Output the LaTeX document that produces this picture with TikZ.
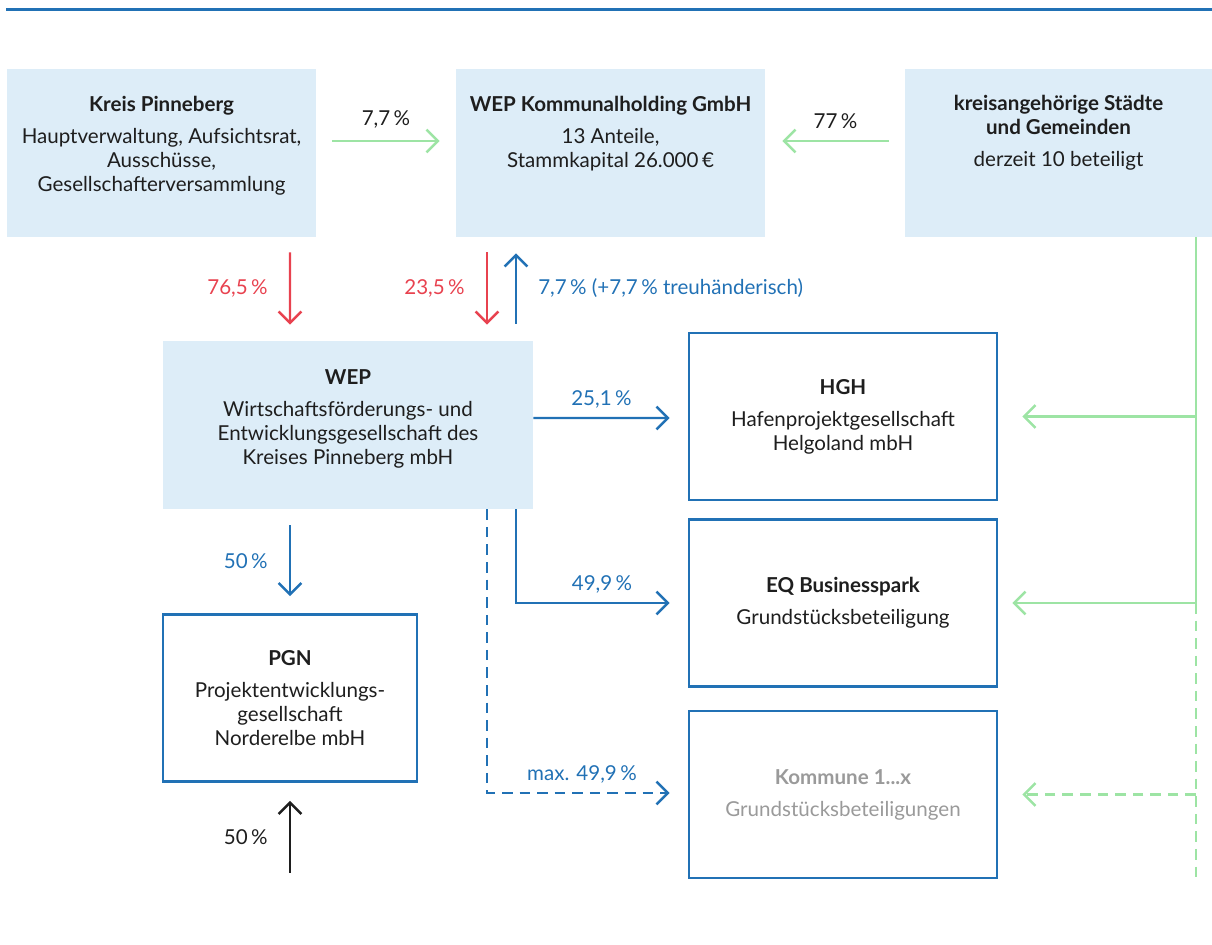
\documentclass[tikz,border=0pt]{standalone}
\usepackage{fontspec}
\setmainfont{Lato}
\usetikzlibrary{arrows.meta,calc,positioning}

\definecolor{wepblue}{HTML}{2171B5}
\definecolor{wepred}{HTML}{E8424F}
\definecolor{wepgreen}{HTML}{9DE4A4}
\definecolor{wepfill}{HTML}{DDEDF8}
\definecolor{wepgray}{HTML}{9A9A9A}
\definecolor{weptext}{HTML}{1E1E1E}

\begin{document}
\begin{tikzpicture}[x=0.02cm, y=-0.02cm,
	font=\fontsize{11.7}{13.7}\selectfont, text=weptext,
	lbox/.style={fill=wepfill, inner sep=0pt, minimum height=3.36cm},
	obox/.style={draw=wepblue, line width=1.6pt, fill=white, align=center, inner sep=0pt,
		minimum width=6.16cm, minimum height=3.34cm},
	txt/.style={align=center, anchor=north, inner sep=0pt},
	pct/.style={inner sep=0pt},
	conn/.style={line width=1.4pt, -{Straight Barb[length=6.5pt,width=13pt]}}]

	\useasboundingbox (0,0) rectangle (1212,945);

	%top rule
	\draw[wepblue, line width=1.7pt] (6,10) -- (1212,10);

	%top row
	\node[lbox, minimum width=6.18cm] (kp) at (161.5,153) {};
	\node[txt] (kpt) at (161.5,96) {\textbf{Kreis Pinneberg}\\[4.5pt]
		Hauptverwaltung, Aufsichtsrat,\\ Ausschüsse,\\ Gesellschafterversammlung};

	\node[lbox, minimum width=6.18cm] (kh) at (610.5,153) {};
	\node[txt] (kht) at (610.5,96) {\textbf{WEP Kommunalholding GmbH}\\[4.5pt]
		13 Anteile,\\ Stammkapital 26.000\,€};

	\node[lbox, minimum width=6.14cm] (ks) at (1058.5,153) {};
	\node[txt] (kst) at (1058.5,95) {\textbf{kreisangehörige Städte}\\ \textbf{und Gemeinden}\\[4.5pt]
		derzeit 10 beteiligt};

	%middle
	\node[lbox, minimum width=7.4cm] (wep) at (348,425) {};
	\node[txt] (wept) at (348,369) {\textbf{WEP}\\[4.5pt]
		Wirtschaftsförderungs- und\\ Entwicklungsgesellschaft des\\ Kreises Pinneberg mbH};

	%companies
	\node[obox] (hgh) at (843,416.5) {\textbf{HGH}\\[4.5pt] Hafenprojektgesellschaft\\ Helgoland mbH};
	\node[obox] (eq) at (843,603) {\textbf{EQ Businesspark}\\[4.5pt] Grundstücksbeteiligung};
	\node[obox, text=wepgray] (kom) at (843,794.5) {\textbf{Kommune 1...x}\\[4.5pt] Grundstücksbeteiligungen};
	\node[obox, minimum width=5.08cm] (pgn) at (290,698) {\textbf{PGN}\\[4.5pt]
		Projektentwicklungs-\\ gesellschaft\\ Norderelbe mbH};

	%green lines
	\draw[conn, wepgreen] ($(kp.east)+(16,-12)$) -- ($(kh.west)+(-16,-12)$)
		node[pct, midway, above=6.5pt, text=weptext] (l1) {7,7\,\%};
	\draw[conn, wepgreen] ($(ks.west)+(-16,-12)$) -- ($(kh.east)+(17,-12)$)
		node[pct, midway, above=6.5pt, text=weptext] (l2) {77\,\%};

	\coordinate (g0) at ($(ks.south)+(137.5,0)$);
	\coordinate (g1) at (g0 |- eq.east);
	\coordinate (g2) at (g0 |- 0,880);
	\draw[wepgreen, line width=1.4pt] (g0) -- (g1);
	\draw[wepgreen, line width=1.4pt, dash pattern=on 6pt off 4pt] (g1) -- (g2);
	\draw[conn, wepgreen] (g0 |- hgh.east) -- ($(hgh.east)+(24,0)$);
	\draw[conn, wepgreen] (g1) -- ($(eq.east)+(14,0)$);
	\draw[conn, wepgreen, dash pattern=on 6pt off 4pt] (g0 |- kom.east) -- ($(kom.east)+(24,0)$);

	%red and blue up
	\draw[conn, wepred] ($(kp.south)+(128.5,15)$) -- ($(wep.north)+(-58,-16)$)
		node[pct, midway, left=12pt, text=wepred] (l3) {76,5\,\%};
	\draw[conn, wepred] ($(kh.south)+(-123.5,15)$) -- ($(wep.north)+(139,-16)$)
		node[pct, midway, left=12pt, text=wepred] (l4) {23,5\,\%};
	\draw[conn, wepblue] ($(wep.north)+(168,-17)$) -- ($(kh.south)+(-94.5,16)$)
		node[pct, midway, right=12pt, text=wepblue] (l5) {7,7\,\% (+7,7\,\% treuhänderisch)};

	%from WEP
	\draw[conn, wepblue] (wep.east |- 0,418) -- ($(hgh.west)+(-18,1.5)$)
		node[pct, midway, above=5pt, text=wepblue] (l6) {25,1\,\%};
	\draw[conn, wepblue] ($(wep.south)+(168,0)$) |- ($(eq.west)+(-18,0)$)
		node[pct, pos=0.78, above=5pt, text=wepblue] (l7) {49,9\,\%};
	\draw[conn, wepblue, dash pattern=on 6pt off 4pt] ($(wep.south)+(139,0)$) |- ($(kom.west)+(-18,-1.5)$)
		node[pct, pos=0.76, above=5pt, text=wepblue] (l8) {max. 49,9\,\%};

	%PGN
	\draw[conn, wepblue] ($(wep.south)+(-58,16)$) -- ($(pgn.north)+(0,-17)$)
		node[pct, midway, left=12pt, text=wepblue] (l9) {50\,\%};
	\draw[conn, weptext] ($(pgn.south)+(0,90)$) -- ($(pgn.south)+(0,18)$)
		node[pct, midway, left=12pt] (l10) {50\,\%};

\end{tikzpicture}
\end{document}
